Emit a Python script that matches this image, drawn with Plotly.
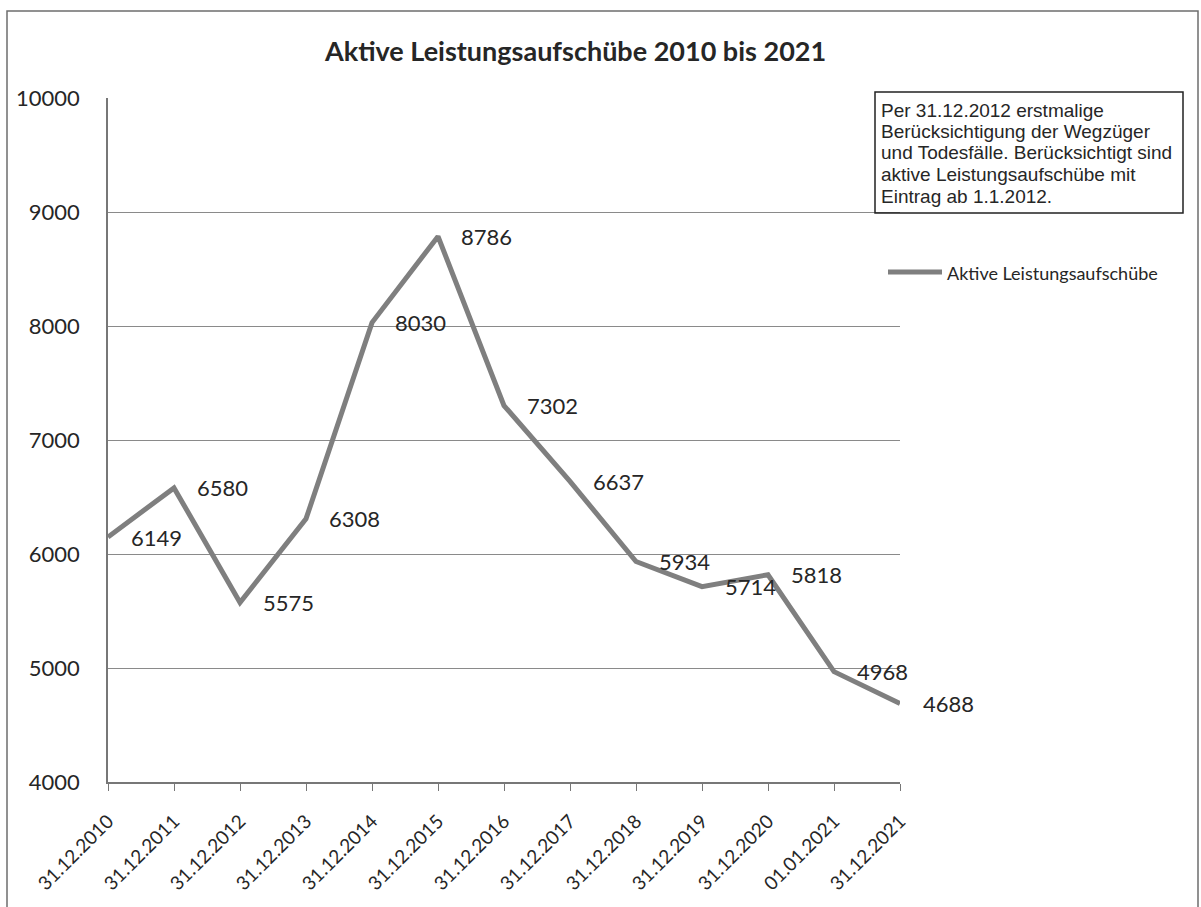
import plotly.graph_objects as go

# ---- data ----
categories = ["31.12.2010", "31.12.2011", "31.12.2012", "31.12.2013", "31.12.2014",
              "31.12.2015", "31.12.2016", "31.12.2017", "31.12.2018", "31.12.2019",
              "31.12.2020", "01.01.2021", "31.12.2021"]
values = [6149, 6580, 5575, 6308, 8030, 8786, 7302, 6637, 5934, 5714, 5818, 4968, 4688]
series_name = "Aktive Leistungsaufschübe"
title_text = "Aktive Leistungsaufschübe 2010 bis 2021"
note_lines = ["Per 31.12.2012 erstmalige",
              "Berücksichtigung der Wegzüger",
              "und Todesfälle. Berücksichtigt sind",
              "aktive Leistungsaufschübe mit",
              "Eintrag ab 1.1.2012."]
y_ticks = [4000, 5000, 6000, 7000, 8000, 9000, 10000]
y_tick_labels = ["4000", "5000", "6000", "7000", "8000", "9000", "10000"]

# ---- layout geometry (pixels) ----
W, H = 1201, 907
L, R, T, B = 108, 900, 98, 782


def px(x):
    return (x - L) / (R - L)


def py(y):
    return (B - y) / (B - T)


LINE_COLOR = "#7f7f7f"
GRID_COLOR = "#8a8a8a"
TEXT_COLOR = "#262626"
FONT = "Lato"

fig = go.Figure()
fig.add_trace(go.Scatter(
    x=list(range(len(categories))), y=values, mode="lines", name=series_name,
    line=dict(color=LINE_COLOR, width=5), showlegend=False, hoverinfo="x+y"))

annotations = []
for i, v in enumerate(values):
    annotations.append(dict(x=i, y=v, xref="x", yref="y", text=str(v), showarrow=False,
                            xanchor="left", yanchor="middle", xshift=21,
                            font=dict(family=FONT, size=22, color=TEXT_COLOR)))

# title
annotations.append(dict(x=px(575), y=py(50), xref="paper", yref="paper", text="<b>" + title_text + "</b>",
                        showarrow=False, xanchor="center", yanchor="middle",
                        font=dict(family=FONT, size=27, color=TEXT_COLOR)))

# note box text
note_y = [110, 131.5, 153, 174.5, 196.5]
for line, yy in zip(note_lines, note_y):
    annotations.append(dict(x=px(879), y=py(yy), xref="paper", yref="paper", text=line,
                            showarrow=False, xanchor="left", yanchor="middle",
                            font=dict(family="Liberation Sans", size=19, color=TEXT_COLOR)))

# legend text
annotations.append(dict(x=px(945), y=py(273), xref="paper", yref="paper", text=series_name,
                        showarrow=False, xanchor="left", yanchor="middle",
                        font=dict(family=FONT, size=18, color=TEXT_COLOR)))

shapes = [
    # outer chart border
    dict(type="rect", xref="paper", yref="paper", x0=px(7), x1=px(1198), y0=py(960), y1=py(11),
         line=dict(color="#6e6e6e", width=1.5), fillcolor="rgba(0,0,0,0)", layer="below"),
    # note box
    dict(type="rect", xref="paper", yref="paper", x0=px(875), x1=px(1183), y0=py(213), y1=py(92),
         line=dict(color="#222222", width=1.5), fillcolor="rgba(0,0,0,0)"),
    # legend line
    dict(type="line", xref="paper", yref="paper", x0=px(888), x1=px(942), y0=py(272), y1=py(272),
         line=dict(color=LINE_COLOR, width=5)),
]

fig.update_layout(
    width=W, height=H,
    margin=dict(l=L, r=W - R, t=T, b=H - B, pad=0),
    paper_bgcolor="white", plot_bgcolor="white",
    font=dict(family=FONT, size=19, color=TEXT_COLOR),
    annotations=annotations, shapes=shapes,
    xaxis=dict(
        range=[0, len(categories) - 1], tickmode="array",
        tickvals=list(range(len(categories))), ticktext=categories,
        tickangle=-45, ticks="outside", ticklen=7, tickcolor="#777777", tickwidth=1,
        ticklabelstandoff=12,
        showline=True, linecolor="#777777", linewidth=1.5, showgrid=False, zeroline=False,
        tickfont=dict(family=FONT, size=19, color=TEXT_COLOR)),
    yaxis=dict(
        range=[4000, 10000], tickmode="array", tickvals=y_ticks, ticktext=y_tick_labels,
        ticks="", showline=True, linecolor="#777777", linewidth=1.5,
        showgrid=True, gridcolor=GRID_COLOR, gridwidth=1, zeroline=False,
        ticklabelstandoff=22,
        tickfont=dict(family=FONT, size=22, color=TEXT_COLOR)),
)

fig.write_html("out.html")
